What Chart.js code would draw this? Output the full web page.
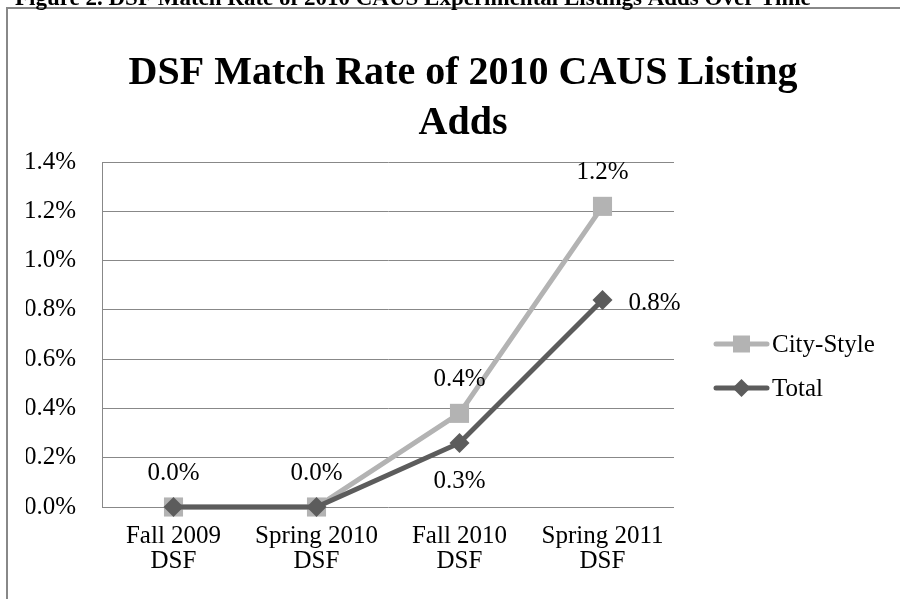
<!DOCTYPE html>
<html><head><meta charset="utf-8">
<script src="https://cdn.jsdelivr.net/npm/chart.js@4.4.0/dist/chart.umd.min.js"></script>
<style>html,body{margin:0;padding:0;background:#fff;overflow:hidden}#wrap{position:relative;width:900px;height:599px}</style>
</head><body><div id="wrap"><canvas id="c" width="900" height="599"></canvas></div>
<script>
const figureCaption = 'Figure 2. DSF Match Rate of 2010 CAUS Experimental Listings Adds Over Time';
const chartTitle = ['DSF Match Rate of 2010 CAUS Listing', 'Adds'];
const categories = [['Fall 2009', 'DSF'], ['Spring 2010', 'DSF'], ['Fall 2010', 'DSF'], ['Spring 2011', 'DSF']];
const seriesNames = ['City-Style', 'Total'];
const cityStyle = [0.0, 0.0, 0.38, 1.22];
const total = [0.0, 0.0, 0.26, 0.84];
const yMin = 0, yMax = 1.4, yStep = 0.2;
const cityLabelPos = ['above', 'above', 'above', 'above'];
const totalLabelPos = [null, null, 'below', 'right'];

const FONT = "'Liberation Serif','Times New Roman',serif";
const LIGHT = '#b3b3b3', DARK = '#5c5c5c', GRID = '#888888';

const decor = {
  id: 'decor',
  afterDatasetsDraw(chart) {
    const ctx = chart.ctx;
    ctx.save();
    ctx.font = '25px ' + FONT;
    ctx.fillStyle = '#000';
    const posSets = [cityLabelPos, totalLabelPos];
    chart.data.datasets.forEach((ds, di) => {
      const meta = chart.getDatasetMeta(di);
      meta.data.forEach((pt, i) => {
        const pos = posSets[di][i];
        if (!pos) return;
        const txt = ds.data[i].toFixed(1) + '%';
        if (pos === 'above') { ctx.textAlign = 'center'; ctx.textBaseline = 'middle'; ctx.fillText(txt, pt.x, pt.y - 34); }
        else if (pos === 'below') { ctx.textAlign = 'center'; ctx.textBaseline = 'middle'; ctx.fillText(txt, pt.x, pt.y + 39); }
        else if (pos === 'right') { ctx.textAlign = 'left'; ctx.textBaseline = 'middle'; ctx.fillText(txt, pt.x + 26, pt.y + 3); }
      });
    });
    ctx.restore();
  },
  afterDraw(chart) {
    const ctx = chart.ctx;
    ctx.save();
    // frame
    ctx.strokeStyle = GRID; ctx.lineWidth = 2;
    ctx.strokeRect(7, 8, 1000, 1000);
    // caption (cut off at top)
    ctx.fillStyle = '#000';
    ctx.font = 'bold 23px ' + FONT;
    ctx.textAlign = 'left'; ctx.textBaseline = 'alphabetic';
    ctx.fillText(figureCaption, 15, 5);
    // title
    ctx.font = 'bold 40px ' + FONT;
    ctx.textAlign = 'center'; ctx.textBaseline = 'middle';
    chartTitle.forEach((t, i) => ctx.fillText(t, 463, 74 + i * 50));
    // legend
    chart.data.datasets.forEach((ds, i) => {
      const y = 344 + i * 44;
      ctx.strokeStyle = ds.borderColor; ctx.lineWidth = 5; ctx.lineCap = 'round';
      ctx.beginPath(); ctx.moveTo(716, y); ctx.lineTo(767, y); ctx.stroke();
      ctx.fillStyle = ds.borderColor;
      const cx = 741.5;
      if (ds.pointStyle === 'rect') { ctx.fillRect(cx - 8.5, y - 8.5, 17, 17); }
      else { ctx.beginPath(); ctx.moveTo(cx - 9, y); ctx.lineTo(cx, y - 9); ctx.lineTo(cx + 9, y); ctx.lineTo(cx, y + 9); ctx.closePath(); ctx.fill(); }
      ctx.fillStyle = '#000';
      ctx.font = '25px ' + FONT;
      ctx.textAlign = 'left'; ctx.textBaseline = 'middle';
      ctx.fillText(ds.label, 772, y + 1);
    });
    ctx.restore();
  }
};

new Chart(document.getElementById('c'), {
  type: 'line',
  data: {
    labels: categories,
    datasets: [
      { label: seriesNames[0], data: cityStyle, borderColor: LIGHT, backgroundColor: LIGHT, borderWidth: 5,
        pointStyle: 'rect', pointRadius: 13.5, pointHoverRadius: 13.5, pointBorderWidth: 0, tension: 0, order: 1, clip: false },
      { label: seriesNames[1], data: total, borderColor: DARK, backgroundColor: DARK, borderWidth: 5,
        pointStyle: 'rectRot', pointRadius: 10, pointHoverRadius: 10, pointBorderWidth: 0, tension: 0, order: 0, clip: false }
    ]
  },
  options: {
    responsive: false,
    animation: false,
    devicePixelRatio: 1,
    layout: { padding: { left: 26, right: 226, top: 162, bottom: 0 } },
    plugins: { legend: { display: false }, title: { display: false }, tooltip: { enabled: false } },
    scales: {
      x: {
        offset: true,
        grid: { display: false, drawTicks: false },
        border: { display: false },
        ticks: { color: '#000', font: { family: FONT, size: 25, lineHeight: 1.0 }, padding: 17, maxRotation: 0, autoSkip: false },
        afterFit(s) { s.height = 92; }
      },
      y: {
        min: yMin, max: yMax,
        grid: { color: GRID, lineWidth: 1, drawTicks: false },
        border: { display: true, color: GRID, width: 1 },
        ticks: { stepSize: yStep, color: '#000', font: { family: FONT, size: 25 }, padding: 26,
          callback: v => v.toFixed(1) + '%' },
        afterFit(s) { s.width = 76; }
      }
    }
  },
  plugins: [decor]
});
</script>
</body></html>
